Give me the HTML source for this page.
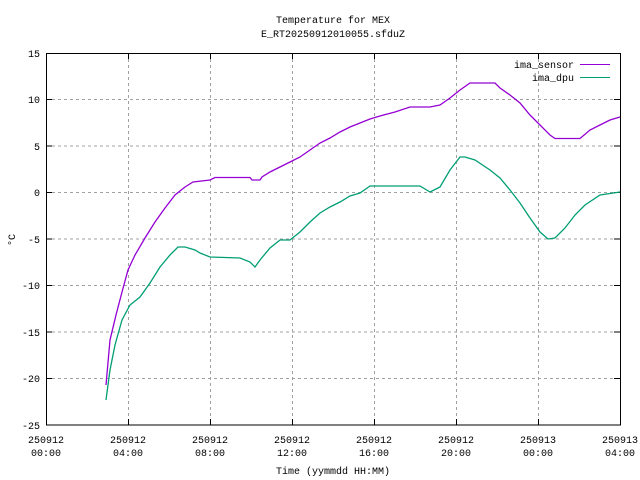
<!DOCTYPE html>
<html><head><meta charset="utf-8"><style>body{margin:0;background:#fff}svg{display:block}text{font-family:"Liberation Mono",monospace;font-size:10px;fill:#000}</style></head><body>
<svg width="640" height="480" xmlns="http://www.w3.org/2000/svg">
<g stroke="#a0a0a0" stroke-dasharray="3,3" stroke-width="1">
<line x1="46" x2="620" y1="99.5" y2="99.5"/><line x1="46" x2="620" y1="146" y2="146"/><line x1="46" x2="620" y1="192.5" y2="192.5"/><line x1="46" x2="620" y1="239" y2="239"/><line x1="46" x2="620" y1="285.5" y2="285.5"/><line x1="46" x2="620" y1="332" y2="332"/><line x1="46" x2="620" y1="378.5" y2="378.5"/>
<line x1="128.5" x2="128.5" y1="53" y2="425"/><line x1="210.5" x2="210.5" y1="53" y2="425"/><line x1="292.5" x2="292.5" y1="53" y2="425"/><line x1="374.5" x2="374.5" y1="53" y2="425"/><line x1="456.5" x2="456.5" y1="53" y2="425"/><line x1="538.5" x2="538.5" y1="53" y2="425"/>
</g>
<g stroke="#000" stroke-width="1">
<path d="M46,99.5h6M46,146h6M46,192.5h6M46,239h6M46,285.5h6M46,332h6M46,378.5h6M620,99.5h-6M620,146h-6M620,192.5h-6M620,239h-6M620,285.5h-6M620,332h-6M620,378.5h-6"/>
<path d="M128.5,425v-6M210.5,425v-6M292.5,425v-6M374.5,425v-6M456.5,425v-6M538.5,425v-6M128.5,53v6M210.5,53v6M292.5,53v6M374.5,53v6M456.5,53v6M538.5,53v6"/>
</g>
<rect x="46.5" y="53.5" width="574" height="371.5" fill="none" stroke="#000"/>
<g text-anchor="end">
<text x="40" y="57">15</text><text x="40" y="103">10</text><text x="40" y="150">5</text><text x="40" y="196">0</text><text x="40" y="243">-5</text><text x="40" y="289">-10</text><text x="40" y="336">-15</text><text x="40" y="382">-20</text><text x="40" y="429">-25</text>
</g>
<g text-anchor="middle">
<text x="46" y="443">250912</text><text x="46" y="456">00:00</text>
<text x="128" y="443">250912</text><text x="128" y="456">04:00</text>
<text x="210" y="443">250912</text><text x="210" y="456">08:00</text>
<text x="292" y="443">250912</text><text x="292" y="456">12:00</text>
<text x="374" y="443">250912</text><text x="374" y="456">16:00</text>
<text x="456" y="443">250912</text><text x="456" y="456">20:00</text>
<text x="538" y="443">250913</text><text x="538" y="456">00:00</text>
<text x="620" y="443">250913</text><text x="620" y="456">04:00</text>
<text x="333" y="23">Temperature for MEX</text><text x="333" y="37">E_RT20250912010055.sfduZ</text>
<text x="333" y="474">Time (yymmdd HH:MM)</text>
</g>
<text x="15" y="240" text-anchor="middle" transform="rotate(-90 15 240)">°C</text>
<text x="574" y="68" text-anchor="end">ima_sensor</text><text x="574" y="81" text-anchor="end">ima_dpu</text>
<line x1="580" x2="610" y1="64.5" y2="64.5" stroke="#9400d3"/><line x1="580" x2="610" y1="77.5" y2="77.5" stroke="#009e73"/>
<polyline fill="none" stroke="#9400d3" stroke-width="1.3" points="106,385 110,340 116,315 122,292 128,270 135,255 145,238 155,222 165,208 175,195 185,187 193,182 210,180 215,177.5 250,177.5 252,180 260,180 262,177 270,172 280,167 290,162 300,157 310,150 320,143 330,138 340,132 350,127 360,123 370,119 380,116 395,112 410,107 430,107 440,105 450,98 460,90 470,83 495,83 500,88 510,95 520,103 530,115 540,125 550,135 555,138.5 580,138.5 590,130 600,125 610,120 620,117"/>
<polyline fill="none" stroke="#009e73" stroke-width="1.3" points="106,400 110,370 115,345 122,320 130,305 140,297 150,283 160,267 170,255 178,247 185,247 195,250 200,253 210,257 240,258 250,262 255,267 260,260 270,248 280,240 290,240 300,232 310,222 320,213 330,207 340,202 350,196 360,193 370,186 420,186 430,192 440,187 450,170 460,157 465,157 475,160 490,170 500,178 510,190 520,203 530,218 540,232 548,239 555,238 565,228 575,215 585,205 600,195 620,192"/>
</svg>
</body></html>
